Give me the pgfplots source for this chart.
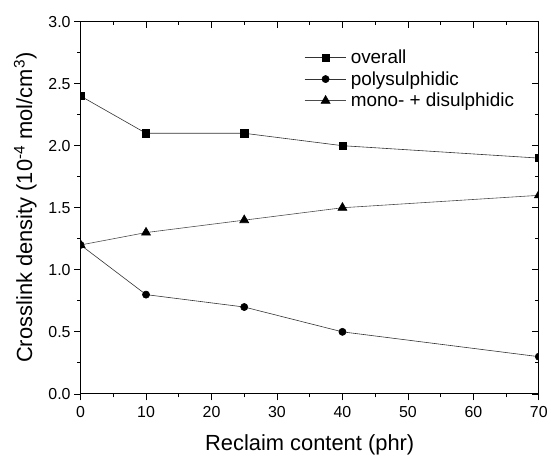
\documentclass[border=0pt]{standalone}
\usepackage{fontspec}
\setmainfont{Liberation Sans}
\usepackage{pgfplots}
\pgfplotsset{compat=1.18}

\begin{document}
\begin{tikzpicture}
\pgfplotsset{
  common/.style={
    scale only axis, width=460.7pt, height=374.3pt,
    xmin=0, xmax=70, ymin=0, ymax=3,
    xtick={0,10,...,70}, ytick={0,0.5,...,3.0},
    minor x tick num=1, minor y tick num=1,
    major tick length=6.5pt, minor tick length=3.5pt,
    axis line style={line width=0.9pt},
    tick style={line width=0.8pt, black},
  }
}
\begin{axis}[common,
    at={(0pt,0pt)}, anchor=south west,
    axis x line*=bottom, axis y line*=left,
    tick align=outside,
    clip marker paths=true,
    /pgf/number format/assume math mode=true,
    ticklabel style={font=\fontsize{16}{16}\selectfont},
    xticklabel style={yshift=-3pt},
    yticklabel style={/pgf/number format/fixed, /pgf/number format/fixed zerofill, /pgf/number format/precision=1},
    xlabel={Reclaim content (phr)},
    ylabel={Crosslink density (10\textsuperscript{-4} mol/cm\textsuperscript{3})},
    label style={font=\fontsize{22}{22}\selectfont},
    xlabel style={yshift=-10pt},
    ylabel style={yshift=5pt},
    legend style={draw=none, fill=none, at={(0.488,0.93)}, anchor=north west,
      font=\fontsize{19}{19}\selectfont, row sep=2.5pt, inner sep=0pt,
      nodes={inner sep=2pt, inner xsep=4pt}},
    legend cell align=left,
    legend image code/.code={
      \draw[mark repeat=2,mark phase=2] plot coordinates {(0pt,0pt) (21pt,0pt) (42pt,0pt)};
    },
]
\addplot[black!80, line width=0.6pt, mark=square*, mark size=3.6pt, mark options={black}]
  coordinates {(0,2.4) (10,2.1) (25,2.1) (40,2.0) (70,1.9)};
\addlegendentry{overall}
\addplot[black!80, line width=0.6pt, mark=*, mark size=3.6pt, mark options={black}]
  coordinates {(0,1.2) (10,0.8) (25,0.7) (40,0.5) (70,0.3)};
\addlegendentry{polysulphidic}
\addplot[black!70, line width=0.6pt, mark=triangle*, mark size=5.2pt, mark options={black}]
  coordinates {(0,1.2) (10,1.3) (25,1.4) (40,1.5) (70,1.6)};
\addlegendentry{mono- + disulphidic}
\end{axis}
\begin{axis}[common,
    at={(0pt,0pt)}, anchor=south west,
    axis x line*=top, axis y line*=right,
    tick align=inside,
    xticklabels={}, yticklabels={},
]
\end{axis}
\path[use as bounding box] (-81pt,-65pt) rectangle (470pt,396pt);
\end{tikzpicture}
\end{document}
